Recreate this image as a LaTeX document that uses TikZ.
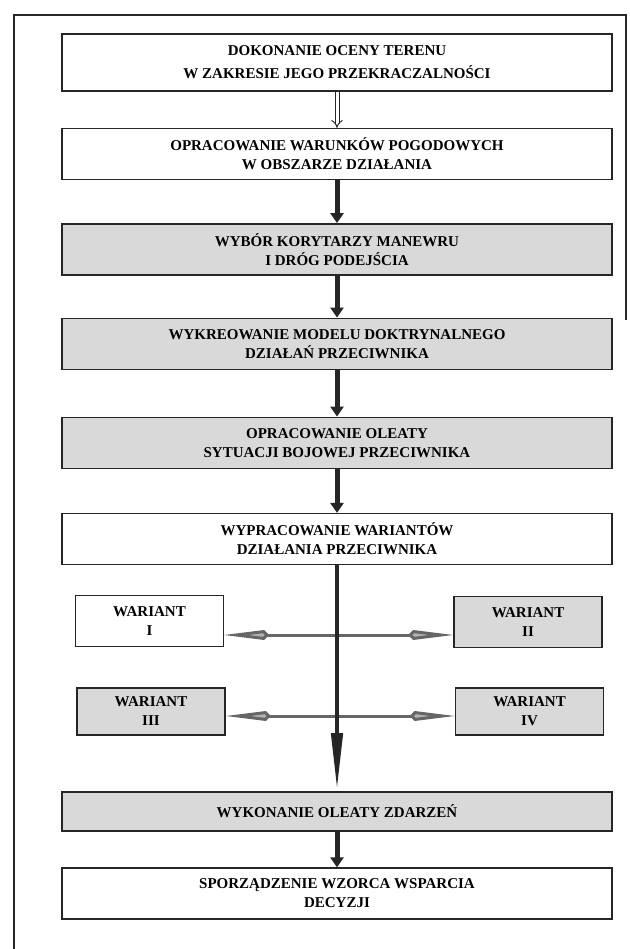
\documentclass[tikz,border=0pt]{standalone}
\usepackage{fontspec}
\setmainfont{Liberation Serif}
\usetikzlibrary{arrows.meta}

\definecolor{ink}{gray}{0.15}
\definecolor{shade}{gray}{0.85}

\tikzset{
  box/.style={draw=ink, line width=1.2pt, fill=white, align=center, inner sep=0pt,
    font=\fontsize{15}{19}\selectfont\bfseries},
  stage/.style={box, minimum width=550pt, minimum height=51pt},
  graystage/.style={stage, fill=shade, line width=1.8pt},
  variant/.style={box, minimum width=148pt, minimum height=51pt},
  grayvariant/.style={variant, fill=shade, line width=1.8pt},
  flow/.style={line width=5pt, ink, -{Triangle[length=10pt,width=13pt]}},
  hollowflow/.style={draw=ink, line width=1pt, double=white, double distance=3pt, -{Implies[length=6pt]}},
  longflow/.style={line width=4.5pt, ink, -{Triangle[length=58pt,width=11pt]}},
  sidearrow/.style={line width=3pt, black!60,
    {Kite[length=45pt,width=10pt,inset=5pt,fill=black!30]}-{Kite[length=45pt,width=10pt,inset=5pt,fill=black!30]}}
}

\begin{document}
\begin{tikzpicture}[x=1pt, y=-1pt]
        \useasboundingbox (0,0) rectangle (629,949);

        % Frame
        \draw[line width=2.5pt, ink] (14,949) -- (14,15) -- (626,15) -- (626,320);

        % Main stages
        \node[stage, minimum height=57pt] (terrain) at (337,62.5) {DOKONANIE OCENY TERENU\\[4pt]W ZAKRESIE JEGO PRZEKRACZALNOŚCI};
        \node[stage] (weather) at (337,154) {OPRACOWANIE WARUNKÓW POGODOWYCH\\W OBSZARZE DZIAŁANIA};
        \node[graystage] (corridors) at (337,249.5) {WYBÓR KORYTARZY MANEWRU\\I DRÓG PODEJŚCIA};
        \node[graystage] (doctrine) at (337,344) {WYKREOWANIE MODELU DOKTRYNALNEGO\\DZIAŁAŃ PRZECIWNIKA};
        \node[graystage] (overlay) at (337,443) {OPRACOWANIE OLEATY\\SYTUACJI BOJOWEJ PRZECIWNIKA};
        \node[stage] (courses) at (337,539) {WYPRACOWANIE WARIANTÓW\\DZIAŁANIA PRZECIWNIKA};

        % Variants
        \node[variant] (varI) at (149.5,621) {WARIANT\\I};
        \node[grayvariant] (varII) at (528,622) {WARIANT\\II};
        \node[grayvariant, minimum height=47pt] (varIII) at (151,711.5) {WARIANT\\III};
        \node[grayvariant, minimum height=47pt] (varIV) at (529.5,711.5) {WARIANT\\IV};

        % Last stages
        \node[graystage, minimum height=39pt] (events) at (337,811.5) {WYKONANIE OLEATY ZDARZEŃ};
        \node[stage] (support) at (337,893.5) {SPORZĄDZENIE WZORCA WSPARCIA\\DECYZJI};

        % Arrows
        \draw[hollowflow] (terrain.south) -- (weather.north);
        \draw[flow] (weather.south) -- (corridors.north);
        \draw[flow] (corridors.south) -- (doctrine.north);
        \draw[flow] (doctrine.south) -- (overlay.north);
        \draw[flow] (overlay.south) -- (courses.north);
        \draw[sidearrow] ([yshift=-14pt]varI.east) -- ([yshift=-13pt]varII.west);
        \draw[sidearrow] ([yshift=-4.5pt]varIII.east) -- ([yshift=-4.5pt]varIV.west);
        \draw[longflow] (courses.south) -- (events.north);
        \draw[flow] (events.south) -- (support.north);
    \end{tikzpicture}
\end{document}
